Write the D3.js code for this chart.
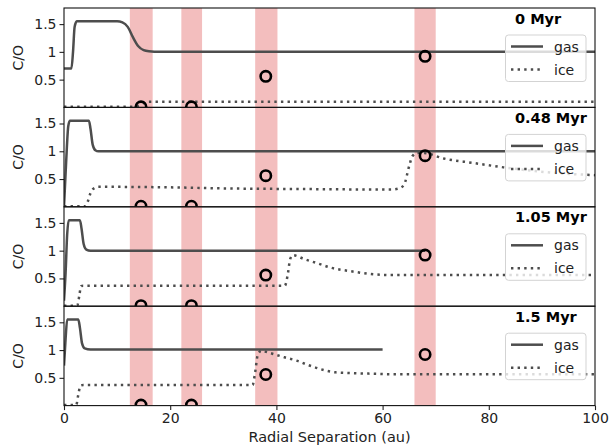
<!DOCTYPE html>
<html><head><meta charset="utf-8">
<script src="https://cdn.jsdelivr.net/npm/d3@7"></script>
<style>body{margin:0;background:#fff}svg{display:block}text{font-family:"DejaVu Sans",sans-serif}</style>
</head><body><svg id="c" width="610" height="448"></svg>
<script>
const panelLabels = ["0 Myr", "0.48 Myr", "1.05 Myr", "1.5 Myr"];
const planetSep = [14.5, 24, 38, 68];
const planetCO = [0.01, 0.01, 0.56, 0.92];
const bandLo = [12.4, 22.1, 36.0, 66.0];
const bandHi = [16.7, 26.0, 40.2, 70.0];
const yTicks = [0.5, 1, 1.5];
const xTicks = [0, 20, 40, 60, 80, 100];
const seriesNames = ["gas", "ice"];

const gas0 = [[0,0.7],[1.4,0.7],[1.7,1.0],[2.0,1.45],[2.4,1.55],[10,1.55],[11,1.53],[12,1.45],[13,1.26],[14,1.1],[15,1.03],[16,1.01],[18,1.0],[100,1.0]];
const ice0 = [[0,0.01],[12.5,0.01],[14,0.03],[15,0.08],[16,0.1],[100,0.1]];
const gas1 = [[0,0],[0.4,0.8],[0.8,1.45],[1.1,1.55],[4.7,1.55],[5.0,1.4],[5.4,1.12],[5.9,1.02],[6.5,1.0],[100,1.0]];
const ice1 = [[0,0.01],[4.0,0.01],[4.5,0.1],[5.0,0.25],[5.6,0.33],[6.5,0.36],[20,0.35],[31,0.33],[45,0.32],[61.5,0.31],[63,0.33],[64,0.39],[65,0.73],[65.6,0.91],[66.5,0.97],[67.7,0.97],[71.5,0.87],[77,0.79],[82.8,0.71],[88,0.65],[94,0.6],[100,0.57]];
const gas2 = [[0,0.1],[0.3,0.6],[0.6,1.3],[0.9,1.55],[3.0,1.55],[3.3,1.4],[3.7,1.12],[4.2,1.02],[5,1.0],[68,1.0]];
const ice2 = [[0,0.01],[2.5,0.01],[2.9,0.2],[3.2,0.36],[3.6,0.37],[41.6,0.37],[42.1,0.55],[42.6,0.85],[43.1,0.92],[45.2,0.85],[47.5,0.78],[50.4,0.69],[54,0.63],[57.7,0.58],[61.4,0.56],[70,0.56],[100,0.56]];
const gas3 = [[0,0.72],[0.3,1.2],[0.6,1.55],[2.7,1.55],[3.0,1.4],[3.4,1.12],[3.9,1.03],[5,1.01],[60,1.01]];
const ice3 = [[0,0.01],[2.3,0.01],[2.7,0.2],[3.1,0.36],[3.6,0.37],[35.5,0.37],[36,0.6],[36.5,0.92],[37.2,0.99],[38,0.97],[39.4,0.93],[41.5,0.87],[43.8,0.81],[46,0.73],[48.2,0.66],[51.1,0.6],[54,0.585],[57.7,0.575],[62,0.565],[100,0.565]];
const gasSeries = [gas0, gas1, gas2, gas3];
const iceSeries = [ice0, ice1, ice2, ice3];

const svg = d3.select("#c");
const left = 64, right = 595, top0 = 8, ph = 99.4;
const x = d3.scaleLinear().domain([0, 100]).range([left, right]);
const lineCol = "#4d4d4d";
const fs = 14;

panelLabels.forEach((lab, i) => {
  const t = top0 + i * ph;
  const y = d3.scaleLinear().domain([0, 1.79]).range([t + ph, t]);
  const g = svg.append("g");
  const cid = "clip" + i;
  g.append("clipPath").attr("id", cid).append("rect")
    .attr("x", left).attr("y", t).attr("width", right - left).attr("height", ph);
  const pg = g.append("g").attr("clip-path", `url(#${cid})`);
  pg.selectAll("rect.band").data(bandLo).join("rect").attr("class", "band")
    .attr("x", (d) => x(d)).attr("width", (d, j) => x(bandHi[j]) - x(d))
    .attr("y", t).attr("height", ph)
    .attr("fill", "#d62728").attr("fill-opacity", 0.3);
  const line = d3.line().x(d => x(d[0])).y(d => y(d[1])).curve(d3.curveMonotoneX);
  pg.append("path").attr("d", line(gasSeries[i])).attr("fill", "none")
    .attr("stroke", lineCol).attr("stroke-width", 2.5);
  pg.append("path").attr("d", line(iceSeries[i])).attr("fill", "none")
    .attr("stroke", lineCol).attr("stroke-width", 2.5).attr("stroke-dasharray", "2.4,4.2");
  pg.selectAll("circle").data(planetSep).join("circle")
    .attr("cx", d => x(d)).attr("cy", (d, j) => y(planetCO[j]))
    .attr("r", 5.2).attr("fill", "none").attr("stroke", "#000").attr("stroke-width", 2.6);

  // legend
  const lg = g.append("g");
  lg.append("rect").attr("x", 505.5).attr("y", t + 27).attr("width", 80.5).attr("height", 46.5)
    .attr("rx", 3).attr("fill", "#fff").attr("fill-opacity", 0.8)
    .attr("stroke", "#d3d3d3").attr("stroke-width", 1);
  seriesNames.forEach((s, k) => {
    const ly = t + 38.5 + k * 23;
    lg.append("line").attr("x1", 511).attr("x2", 543).attr("y1", ly).attr("y2", ly)
      .attr("stroke", lineCol).attr("stroke-width", 2.5)
      .attr("stroke-dasharray", k === 1 ? "2.4,4.2" : null);
    lg.append("text").attr("x", 554).attr("y", ly + 5).attr("font-size", fs).attr("fill", "#222").text(s);
  });

  g.append("text").attr("x", 515).attr("y", t + 15.5).attr("font-size", 14.5)
    .attr("font-weight", "bold").attr("fill", "#000").text(lab);

  const ya = g.append("g").attr("transform", `translate(${left},0)`)
    .call(d3.axisLeft(y).tickValues(yTicks).tickFormat(d3.format("")).tickSize(4.5).tickPadding(3));
  ya.select(".domain").remove();
  ya.selectAll("text").attr("font-size", fs).attr("font-family", "DejaVu Sans").attr("fill", "#222");
  ya.selectAll("line").attr("stroke", "#222").attr("stroke-width", 1.1);

  g.append("rect").attr("x", left).attr("y", t).attr("width", right - left).attr("height", ph)
    .attr("fill", "none").attr("stroke", "#111").attr("stroke-width", 1.1);

  g.append("text").attr("transform", `translate(23,${t + ph / 2}) rotate(-90)`)
    .attr("text-anchor", "middle").attr("font-size", fs).attr("fill", "#222").text("C/O");
});

const bottom = top0 + 4 * ph;
const xa = svg.append("g").attr("transform", `translate(0,${bottom})`)
  .call(d3.axisBottom(x).tickValues(xTicks).tickFormat(d3.format("")).tickSize(4.5).tickPadding(3));
xa.select(".domain").remove();
xa.selectAll("text").attr("font-size", fs).attr("font-family", "DejaVu Sans").attr("fill", "#222");
xa.selectAll("line").attr("stroke", "#222").attr("stroke-width", 1.1);
svg.append("text").attr("x", (left + right) / 2).attr("y", 442).attr("text-anchor", "middle")
  .attr("font-size", 14.5).attr("fill", "#222").text("Radial Separation (au)");
</script></body></html>
